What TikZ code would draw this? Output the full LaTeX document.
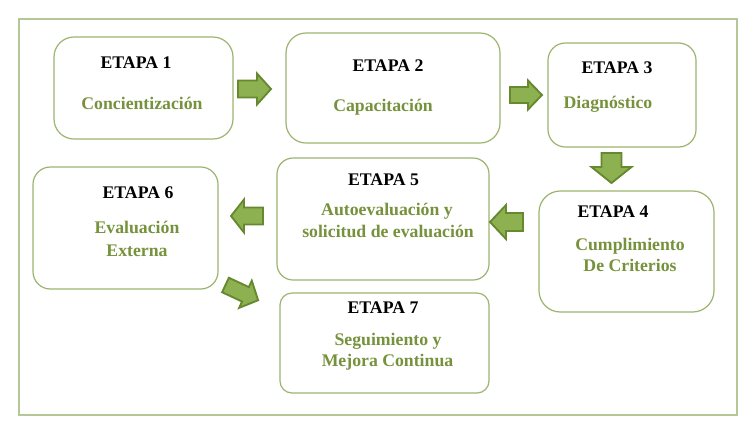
\documentclass[tikz,border=0pt]{standalone}
\usepackage{fontspec}
\setmainfont{Liberation Serif}
\usetikzlibrary{fit}
\definecolor{framec}{HTML}{B3C896}
\definecolor{boxc}{HTML}{9CB46E}
\definecolor{txtg}{HTML}{76923C}
\definecolor{arrfill}{HTML}{8DB150}
\definecolor{arrdraw}{HTML}{66882F}
\tikzset{
  stagebox/.style={draw=boxc, line width=0.9pt, inner sep=0pt, fill=white},
  etapa/.style={anchor=base, inner sep=0pt, font=\fontsize{13.3}{16}\selectfont\bfseries, text=black},
  desc/.style={anchor=base, inner sep=0pt, font=\fontsize{13.3}{16}\selectfont\bfseries, text=txtg},
  pics/blockarrow/.style n args={4}{code={
    \draw[fill=arrfill, draw=arrdraw, line width=1.4pt, line join=miter]
      (0,-#2) -- ({#1-#4},-#2) -- ({#1-#4},-#3) -- (#1,0) -- ({#1-#4},#3) -- ({#1-#4},#2) -- (0,#2) -- cycle;
  }}
}
\begin{document}
\begin{tikzpicture}[x=0.75pt,y=-0.75pt]
\useasboundingbox (0,0) rectangle (755,433);
\draw[framec, line width=1.5pt] (19,19) rectangle (737,415);
% boxes
\node[stagebox, rounded corners=15pt, fit={(54,37) (233,139)}] (b1) {};
\node[stagebox, rounded corners=15pt, fit={(286,33) (500,143)}] (b2) {};
\node[stagebox, rounded corners=13pt, fit={(548,43) (696,147)}] (b3) {};
\node[stagebox, rounded corners=16pt, fit={(539,191) (714,312)}] (b4) {};
\node[stagebox, rounded corners=12pt, fit={(277,158) (489,280)}] (b5) {};
\node[stagebox, rounded corners=13pt, fit={(33,167) (218,289)}] (b6) {};
\node[stagebox, rounded corners=9pt, fit={(280,293) (489,393)}] (b7) {};
% texts
\node[etapa] (e1) at (136,68) {ETAPA 1};
\node[desc] (d1) at (142,109) {Concientización};
\node[etapa] (e2) at (388,71) {ETAPA 2};
\node[desc] (d2) at (383,111) {Capacitación};
\node[etapa] (e3) at (617,73) {ETAPA 3};
\node[desc] (d3) at (608,108) {Diagnóstico};
\node[etapa] (e4) at (613,217) {ETAPA 4};
\node[desc] (d4a) at (630,250) {Cumplimiento};
\node[desc] (d4b) at (630,271) {De Criterios};
\node[etapa] (e5) at (383.5,185) {ETAPA 5};
\node[desc] (d5a) at (387,215) {Autoevaluación y};
\node[desc] (d5b) at (388,237) {solicitud de evaluación};
\node[etapa] (e6) at (138,198) {ETAPA 6};
\node[desc] (d6a) at (137,233) {Evaluación};
\node[desc] (d6b) at (137,256) {Externa};
\node[etapa] (e7) at (383,313) {ETAPA 7};
\node[desc] (d7a) at (388,345) {Seguimiento y};
\node[desc] (d7b) at (387.5,366) {Mejora Continua};
% block arrows
\pic at (238,89) {blockarrow={33}{8.5}{15.5}{14}};
\pic at (510,95) {blockarrow={32}{8}{14.5}{14}};
\pic[rotate=-90] at (611.5,153) {blockarrow={30}{10}{20}{16}};
\pic[rotate=180] at (523,222) {blockarrow={33}{9}{17}{16}};
\pic[rotate=180] at (263,216) {blockarrow={32}{8.5}{16.5}{13}};
\pic[rotate=-25] at (225.5,285) {blockarrow={36}{8}{15}{14}};
\end{tikzpicture}
\end{document}
